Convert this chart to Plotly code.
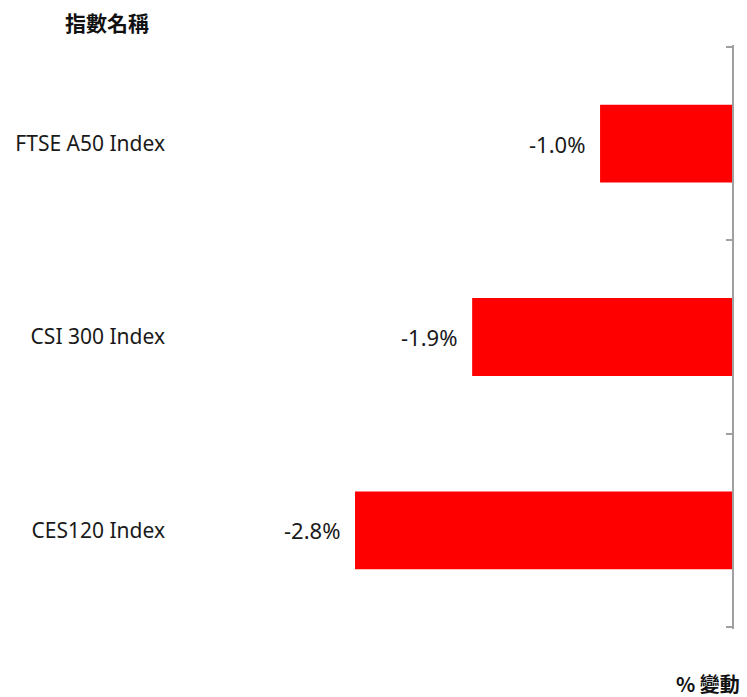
import plotly.graph_objects as go

categories = ["FTSE A50 Index", "CSI 300 Index", "CES120 Index"]
values = [-0.98, -1.93, -2.80]
value_labels = ["-1.0%", "-1.9%", "-2.8%"]
y_title = "指數名稱"
x_title = "% 變動"

FONT = "'Noto Sans', 'Noto Sans CJK TC', sans-serif"
CJK = "'Noto Sans CJK TC', sans-serif"

n = len(categories)
positions = [n - 1 - i for i in range(n)]  # top-to-bottom index on the right axis
boundaries = [i - 0.5 for i in range(n + 1)]
yr = [-0.51, n - 0.49]

fig = go.Figure()
fig.add_trace(go.Bar(
    x=values, y=categories, orientation="h",
    marker=dict(color="#ff0000", line=dict(width=0)),
    width=0.403, hoverinfo="skip", showlegend=False,
))
# invisible copy so the right-hand axis (line + boundary ticks) is drawn
fig.add_trace(go.Bar(
    x=values, y=positions, orientation="h", yaxis="y2",
    marker=dict(color="rgba(0,0,0,0)", line=dict(width=0)),
    width=0.403, hoverinfo="skip", showlegend=False,
))

for v, c, t in zip(values, categories, value_labels):
    fig.add_annotation(x=v, y=c, text=t, showarrow=False, xanchor="right",
                       xshift=-13, font=dict(family=FONT, size=22, color="#1a1a1a"))

fig.add_annotation(xref="paper", yref="paper", x=-0.1325, y=1.0394,
                   text="<b>" + y_title + "</b>",
                   showarrow=False, font=dict(family=CJK, size=21, color="#111"),
                   xanchor="center", yanchor="middle")
fig.add_annotation(xref="paper", yref="paper", x=1.018, y=-0.0925,
                   text="<b>" + x_title + "</b>",
                   showarrow=False, font=dict(family=CJK, size=20, color="#111"),
                   xanchor="right", yanchor="middle")

fig.update_layout(
    width=747, height=697,
    margin=dict(l=180, r=15, t=45, b=68),
    paper_bgcolor="white", plot_bgcolor="white",
    xaxis=dict(range=[-4.1, 0], showgrid=False, zeroline=False, showline=False,
               showticklabels=False, ticks="", fixedrange=True),
    yaxis=dict(type="category", categoryorder="array",
               categoryarray=categories[::-1], range=yr,
               showgrid=False, zeroline=False, showline=False, ticks="",
               ticklabelstandoff=14, fixedrange=True,
               tickfont=dict(family=FONT, size=21, color="#1a1a1a")),
    yaxis2=dict(type="linear", range=yr,
                overlaying="y", side="right", anchor="x",
                tickmode="array", tickvals=boundaries, showticklabels=False,
                ticks="inside", ticklen=6, tickcolor="#a0a0a0", tickwidth=1.5,
                showline=True, linecolor="#a0a0a0", linewidth=2,
                showgrid=False, zeroline=False, fixedrange=True),
)

fig.write_html("out.html", config={"displayModeBar": False},
               post_script="document.body.style.margin='0';")
